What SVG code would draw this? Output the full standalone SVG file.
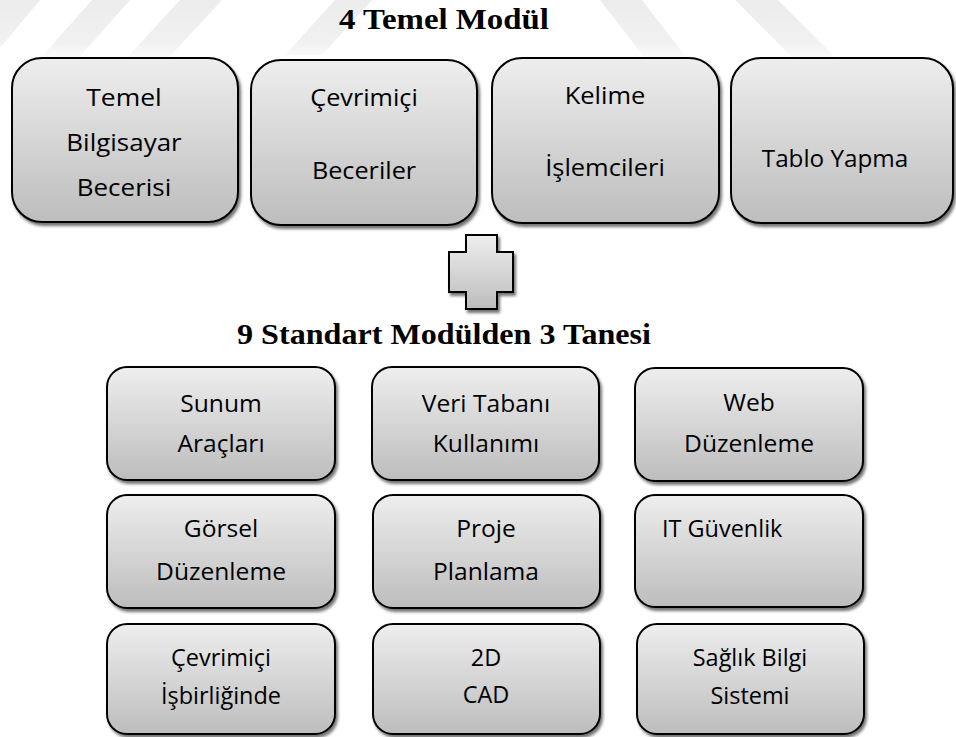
<svg xmlns="http://www.w3.org/2000/svg" width="956" height="737" viewBox="0 0 956 737">
<defs>
<linearGradient id="g" x1="0" y1="0" x2="0" y2="1">
<stop offset="0" stop-color="#eeeeee"/>
<stop offset="1" stop-color="#bdbdbd"/>
</linearGradient>
<linearGradient id="wm" gradientUnits="userSpaceOnUse" x1="0" y1="0" x2="0" y2="62">
<stop offset="0" stop-color="#ececec"/>
<stop offset="0.7" stop-color="#f1f1f1"/>
<stop offset="1" stop-color="#ffffff"/>
</linearGradient>
<filter id="sh" x="-10%" y="-10%" width="125%" height="130%">
<feGaussianBlur in="SourceAlpha" stdDeviation="1.6"/>
<feOffset dx="2" dy="3" result="b"/>
<feComponentTransfer><feFuncA type="linear" slope="0.55"/></feComponentTransfer>
<feMerge><feMergeNode/><feMergeNode in="SourceGraphic"/></feMerge>
</filter>
</defs>
<style>
.box{fill:url(#g);stroke:#000;stroke-width:2;filter:url(#sh)}
.t{font-family:"Open Sans","DejaVu Sans",sans-serif;font-size:24.5px;fill:#000;text-anchor:middle}
.s{font-family:"Open Sans","DejaVu Sans",sans-serif;font-size:23px;fill:#000;text-anchor:middle}
.h{font-family:"Liberation Serif","Times New Roman",serif;font-size:29px;font-weight:bold;fill:#000;text-anchor:middle}
.wm{fill:url(#wm)}
</style>
<rect width="956" height="737" fill="#fff"/>
<g id="watermark">
<polygon class="wm" points="0,0 40,0 0,48"/>
<polygon class="wm" points="92,0 130,0 75,62 37,62"/>
<polygon class="wm" points="180,0 222,0 165,62 123,62"/>
<polygon class="wm" points="335,0 372,0 322,55 285,55"/>
<polygon class="wm" points="600,0 642,0 690,62 648,62"/>
<polygon class="wm" points="735,0 778,0 840,62 797,62"/>
</g>
<g id="title1"><text class="h" x="444" y="29" textLength="210" lengthAdjust="spacingAndGlyphs">4 Temel Modül</text></g>
<g id="title2"><text class="h" x="444" y="344" textLength="414" lengthAdjust="spacingAndGlyphs">9 Standart Modülden 3 Tanesi</text></g>

<g id="n1"><rect class="box" x="12" y="58" width="226" height="164" rx="30"/>
<text class="t" transform="translate(124 106) scale(1.08 1)">Temel</text>
<text class="t" transform="translate(124 151) scale(1.06 1)">Bilgisayar</text>
<text class="t" transform="translate(124 196) scale(1.06 1)">Becerisi</text></g>
<g id="n2"><rect class="box" x="251" y="60" width="226" height="165" rx="30"/>
<text class="t" transform="translate(364 106) scale(1.03 1)">Çevrimiçi</text>
<text class="t" transform="translate(364 179) scale(1.03 1)">Beceriler</text></g>
<g id="n3"><rect class="box" x="492" y="58" width="227" height="165" rx="30"/>
<text class="t" transform="translate(605 104) scale(1.04 1)">Kelime</text>
<text class="t" transform="translate(605 176) scale(1.04 1)">İşlemcileri</text></g>
<g id="n4"><rect class="box" x="731" y="58" width="222" height="165" rx="30"/>
<text class="t" transform="translate(835 167) scale(0.99 1)">Tablo Yapma</text></g>

<g id="plus"><path class="box" d="M466,235 H497 V252 H513 V292 H497 V309 H466 V292 H449 V252 H466 Z"/></g>

<g id="m1"><rect class="box" x="107" y="367" width="228" height="113" rx="20"/>
<text class="s" transform="translate(221 412) scale(1.07 1)">Sunum</text>
<text class="s" transform="translate(221 452) scale(1.07 1)">Araçları</text></g>
<g id="m2"><rect class="box" x="372" y="367" width="227" height="113" rx="20"/>
<text class="s" transform="translate(486 412) scale(1.07 1)">Veri Tabanı</text>
<text class="s" transform="translate(486 452) scale(1.07 1)">Kullanımı</text></g>
<g id="m3"><rect class="box" x="635" y="368" width="228" height="113" rx="20"/>
<text class="s" transform="translate(749 411) scale(1.07 1)">Web</text>
<text class="s" transform="translate(749 452) scale(1.07 1)">Düzenleme</text></g>

<g id="m4"><rect class="box" x="107" y="495" width="228" height="113" rx="20"/>
<text class="s" transform="translate(221 537) scale(1.07 1)">Görsel</text>
<text class="s" transform="translate(221 580) scale(1.07 1)">Düzenleme</text></g>
<g id="m5"><rect class="box" x="373" y="495" width="227" height="113" rx="20"/>
<text class="s" transform="translate(486 537) scale(1.07 1)">Proje</text>
<text class="s" transform="translate(486 580) scale(1.07 1)">Planlama</text></g>
<g id="m6"><rect class="box" x="635" y="495" width="228" height="112" rx="20"/>
<text class="s" style="text-anchor:start" transform="translate(662 537) scale(1.02 1)">IT Güvenlik</text></g>

<g id="m7"><rect class="box" x="107" y="624" width="228" height="110" rx="20"/>
<text class="s" transform="translate(221 666) scale(1.02 1)">Çevrimiçi</text>
<text class="s" transform="translate(221 704) scale(1.02 1)">İşbirliğinde</text></g>
<g id="m8"><rect class="box" x="373" y="624" width="227" height="110" rx="20"/>
<text class="s" transform="translate(486 666) scale(1.02 1)">2D</text>
<text class="s" transform="translate(486 703) scale(1.02 1)">CAD</text></g>
<g id="m9"><rect class="box" x="637" y="624" width="227" height="110" rx="20"/>
<text class="s" transform="translate(750 666) scale(1.02 1)">Sağlık Bilgi</text>
<text class="s" transform="translate(750 704) scale(1.02 1)">Sistemi</text></g>
<g id="connectors"></g>
</svg>
